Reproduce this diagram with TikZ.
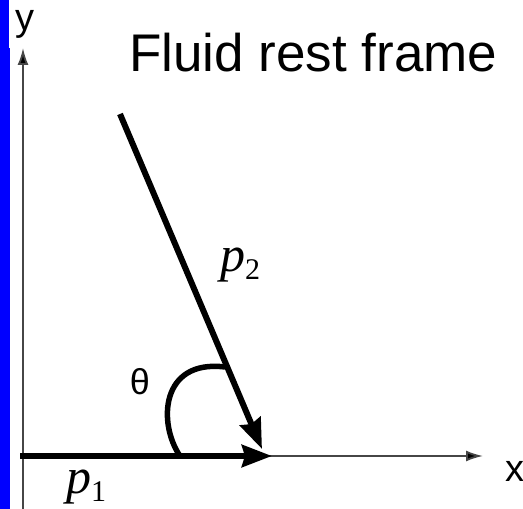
\documentclass[tikz,border=0pt]{standalone}
\usepackage{fontspec}
\setmainfont{Liberation Serif}
\setsansfont{Liberation Sans}
\usetikzlibrary{arrows.meta}
\definecolor{axisgray}{RGB}{70,70,70}
\begin{document}
\begin{tikzpicture}[x=1pt,y=1pt,
  axis/.style={draw=axisgray,line width=1.8pt,-{Latex[length=17pt,width=11pt,fill=black]}},
  momentum/.style={line width=6pt,-{Stealth[length=30pt,width=22pt,inset=3pt]}},
  lbl/.style={inner sep=0pt,font=\sffamily\fontsize{38}{38}\selectfont}]
\useasboundingbox (0,0) rectangle (523,509);
\fill[blue] (0,0) rectangle (10,461);
\fill[blue] (0,461) rectangle (9,509);

% axes
\coordinate (O) at (23,0);
\coordinate (Y) at (23,461);
\coordinate (X0) at (20,53);
\coordinate (X) at (483,53);
\draw[axis] (O) -- (Y);
\draw[axis] (X0) -- (X);
\node[lbl,anchor=base] (ylab) at (25,478) {y};
\node[lbl,anchor=base] (xlab) at (515,27) {x};

% momenta
\coordinate (P1) at (272,53);
\coordinate (P2) at (262,60);
\coordinate (S2) at (120,395);
\draw[momentum] (X0) -- (P1);
\draw[momentum] (S2) -- (P2);
\node[inner sep=0pt,anchor=base west] (p1) at (66,15)
  {{\fontsize{50}{50}\selectfont\itshape p}{\fontsize{30}{30}\selectfont\raisebox{-8pt}{1}}};
\node[inner sep=0pt,anchor=base west] (p2) at (220,237)
  {{\fontsize{50}{50}\selectfont\itshape p}{\fontsize{30}{30}\selectfont\raisebox{-8pt}{2}}};

% angle
\draw[line width=5.5pt] (180,53) .. controls (158,85) and (160,150) .. (225,142);
\node[lbl,anchor=base,font=\sffamily\fontsize{36}{36}\selectfont] (theta) at (140,114) {θ};

\node[inner sep=0pt,anchor=base west,font=\sffamily\fontsize{53}{53}\selectfont] (title) at (129,437) {Fluid rest frame};
\end{tikzpicture}
\end{document}
